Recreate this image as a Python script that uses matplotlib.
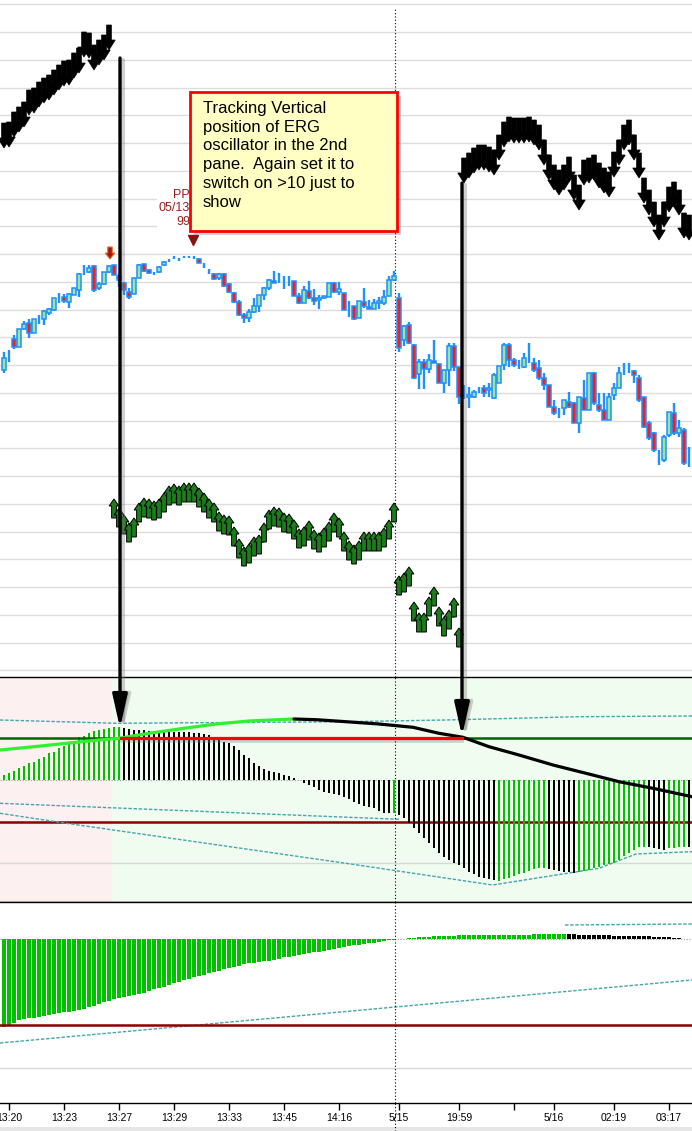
import matplotlib
matplotlib.use("Agg")
import numpy as np
import matplotlib.pyplot as plt
from matplotlib.patches import Rectangle, FancyArrow, ConnectionPatch
from matplotlib.lines import Line2D
from matplotlib.transforms import blended_transform_factory

plt.rcParams['font.family'] = ['Liberation Sans', 'DejaVu Sans']

# ---------------------------------------------------------------- data
n_bars = 138
tick_idx = [1, 12, 23, 34, 45, 56, 67, 79, 91, 102, 110, 122, 133]
tick_labels = ['13:20', '13:23', '13:27', '13:29', '13:33', '13:45', '14:16',
               '5/15', '19:59', '', '5/16', '02:19', '03:17']

candle_high = [348,350,365,371,379,381,381,385,390,392,
               402,407,406,407,412,427,435,435,435,418,
               428,435,435,427,418,412,422,436,436,431,
               428,434,439,441,444,442,444,444,444,442,
               437,431,427,427,427,417,408,400,387,391,
               402,405,413,421,429,427,424,424,419,407,
               414,419,411,405,404,417,418,418,407,399,
               394,399,412,400,401,403,410,424,429,407,
               375,378,356,341,341,346,360,337,330,357,
               357,333,315,313,310,313,315,317,327,334,
               357,357,342,340,347,357,342,340,327,315,
               300,292,300,308,298,303,320,327,328,307,
               307,307,317,333,337,337,330,325,303,279,
               268,250,265,288,297,280,272,253]
candle_low = [327,338,351,353,370,362,367,376,375,385,
              389,397,397,392,405,403,425,427,408,410,
              415,427,425,413,405,401,406,422,428,426,
              425,427,434,438,441,439,442,442,441,437,
              432,426,420,420,413,407,397,384,377,378,
              387,388,400,410,417,417,411,414,404,396,
              397,401,395,391,401,403,407,405,390,383,
              380,382,392,391,391,391,395,404,419,348,
              354,356,321,311,311,327,337,317,307,314,
              329,296,301,292,302,307,303,303,301,317,
              330,333,333,331,332,337,328,320,310,293,
              285,282,285,292,277,267,290,290,295,288,
              280,280,300,312,325,327,317,298,272,260,
              248,235,238,263,265,263,235,233]
candle_open = [330,343,361,353,371,377,367,380,381,387,
               390,400,403,398,405,410,428,428,434,412,
               416,428,435,424,417,408,406,422,436,430,
               427,428,435,439,442,440,443,443,443,441,
               435,429,426,422,426,416,407,398,385,382,
               388,394,405,412,419,419,419,419,419,404,
               397,409,402,400,402,403,417,408,407,397,
               394,382,398,393,391,397,397,404,420,402,
               360,375,355,326,338,331,339,336,317,330,
               354,333,303,303,303,310,312,310,302,317,
               335,355,340,334,333,343,337,332,322,315,
               293,287,292,298,297,277,302,290,327,295,
               290,280,305,312,330,330,329,322,303,277,
               267,243,240,265,287,267,270,242]
candle_close = [342,344,353,371,376,367,381,381,389,391,
                402,401,399,406,412,426,429,432,410,416,
                428,434,425,420,410,403,422,435,429,427,
                426,433,438,440,443,441,443,443,442,437,
                434,428,421,426,414,408,398,385,382,388,
                394,405,412,420,417,420,420,419,404,397,
                410,402,399,402,404,417,408,411,390,398,
                381,399,394,391,397,399,403,420,424,352,
                374,357,322,338,331,340,337,317,330,354,
                333,303,303,305,308,310,307,312,325,334,
                355,340,335,333,342,342,330,322,315,293,
                287,288,300,293,277,303,290,327,297,290,
                280,303,312,327,331,329,325,300,273,262,
                250,244,263,288,267,272,237,243]

# arrow levels (tip of each arrow)
down_arrow_left = [552,553,563,568,573,585,587,593,597,600,605,610,614,615,
                   622,627,643,642,630,635,640,650]                       # bars 0-21
up_arrow_mid = [201,192,185,177,182,197,202,201,199,201,
                207,214,216,214,217,217,217,212,207,201,
                197,188,185,184,173,161,153,156,163,165,
                177,190,193,192,187,186,180,171,173,179,
                170,167,172,178,187,182,168,159,155,159,
                168,168,168,168,172,180,197,124,127,133,
                98,87,87,103,113,93,83,90,102,72]                          # bars 22-91
down_arrow_right = [517,522,527,530,530,528,525,540,553,558,557,557,557,558,
                    555,550,535,520,510,505,510,518,500,490,515,517,520,512,
                    507,503,523,535,550,555,540,522,497,485,473,460,473,488,
                    493,485,462,460]                                       # bars 92-137

# ERG oscillator histogram (pane 2)
erg_hist = [5,7.3,9.3,11.7,14,16.7,18.3,21,23.3,26.7,
            28.3,31.7,34,35.7,37.7,42.7,44.3,46.7,49,50,
            50.7,51.7,52.7,53.3,51.7,50.7,50,50,50,49.3,
            49.3,48.3,48.3,48.3,48.3,48.3,48.3,48.3,47.3,46.7,
            46,45,42.7,40,38.3,37.3,34,30,25,21.7,
            17.3,14,10.7,9.3,8,6.7,5,4,1.7,0,
            -2.7,-5,-7.3,-10,-11.7,-12.7,-14,-15,-17.3,-19.3,
            -21.7,-24,-26,-26.7,-28.3,-30.7,-33.3,-33.3,-33.3,-35,
            -38.3,-42.7,-47.7,-53.3,-58.3,-63.3,-68.3,-73.3,-76.7,-80,
            -82.7,-85,-88.3,-91.7,-94,-96.7,-98.3,-99.3,-100,-101,
            -99.3,-97.7,-96,-94.3,-92.7,-90.7,-89.3,-88.3,-88.3,-89.3,
            -90,-90.7,-91.7,-91.7,-92.7,-91.7,-90.7,-90,-88.3,-86.7,
            -85,-84,-83.3,-80,-76,-73.3,-70,-67.3,-66.7,-67.3,
            -68.3,-69.3,-70,-68.3,-68.3,-67.3,-66.7,-66.7]
erg_hist_color = ("GGGGGGGGGGGGGGGGGGGGGGGG"
                  "KKKKKKKKKKKKKKKKKKKKKKKKKKKKKKKKKKKKKKKKKKKKKKKKKKKKKK"
                  "G" "KKKKKKKKKKKKKKKKKKKK" "GGGGGGGGGG" "KKKKKK"
                  "GGGGGGGGGGGGGG" "KKKK" "GGGG" "K")

# ERG signal line (pane 2)
sig_green_x = [-0.8, 6, 12.5, 19, 23, 29, 36, 42.5, 49, 58]
sig_green_y = [30, 33.3, 36.7, 40, 41.7, 46.7, 51.7, 56, 59, 61]
sig_black_x = [58, 62.5, 68.4, 75, 81.8, 87, 91.8, 97, 103, 109.8, 116.4, 123, 129.8, 137.6]
sig_black_y = [61, 60.3, 58.3, 56, 52.7, 46.7, 42.7, 33.3, 25, 15, 6.7, -1.7, -8.3, -16.7]

# teal trend lines pane 2
teal_a_x = [-0.8, 22.6, 68.4, 88.4, 115, 137.6]
teal_a_y = [60, 56.7, 58.3, 60, 63.3, 64]
teal_b_x = [-0.8, 79]
teal_b_y = [-23.3, -39.3]
teal_c_x = [-0.8, 12.5, 68.4, 78.4, 97.7, 119, 126.4, 137.6]
teal_c_y = [-33.3, -43.3, -83.3, -90.7, -105, -88.3, -74, -71.7]

erg_upper_level = 42
erg_lower_level = -42

# pane 3 histogram
p3_hist = [-87.7,-86.7,-83.7,-81,-80,-79.3,-78.7,-77.7,-77,-76.3,
           -75.3,-74.3,-73.3,-72.7,-71.7,-71,-69.7,-68.3,-67,-65,
           -63.3,-61.7,-60.3,-59.3,-58.3,-57,-56,-55,-53.7,-51.7,
           -50.3,-49,-47.7,-46.3,-44.3,-42.7,-41,-39.7,-38.3,-37,
           -35.7,-34.3,-33,-31.7,-30.3,-29.3,-28,-26.7,-25.3,-24.3,
           -23.7,-23,-22.3,-21.7,-21,-19.7,-18.3,-17.7,-17,-16.3,
           -15.3,-14.3,-13.3,-12.7,-11.7,-11,-10,-9.3,-8.3,-7.3,
           -6.3,-5.7,-5,-4.3,-3.7,-3,-2.3,-1.3,-0.7,0,
           0.3,0.7,1,1.7,2,2.3,2.7,3,3,3.3,
           3.3,3.7,4,4,4,4,4,4,4.3,4.3,
           4.3,4.3,4.3,4.3,4.3,4.3,5,5,5,5,
           5,5,5,5,4.7,4.3,4.3,4.3,4.3,4,
           4,4,3.3,3,3,3,3,2.7,2.7,2.7,
           2.3,2.3,1.7,1.7,1.3,0.7,0.3,0]
p3_color = "G" * 113 + "K" * 25
p3_lower_level = -86
p3_teal_x = [-0.8, 137.6]
p3_teal_y = [-104, -41]
p3_teal2_x = [112.2, 137.6]
p3_teal2_y = [14, 15]

# ---------------------------------------------------------------- layout
W, H = 692, 1131
fig = plt.figure(figsize=(W / 100, H / 100), dpi=100)
ax1 = fig.add_axes([0, 1 - 677 / H, 1, 677 / H])
ax2 = fig.add_axes([0, 1 - 902 / H, 1, 225 / H])
ax3 = fig.add_axes([0, 1 - 1103 / H, 1, 201 / H])
XL = (-0.8, 137.6)
idx = np.arange(n_bars)

blue = '#1e90ff'
hist_green = '#00c000'
teal = '#45a5ad'
teal_ls = (0, (2.5, 1.2))

# ---------------------------------------------------------------- main pane
ax1.set_xlim(XL)
ax1.set_ylim(23, 700)
for s in ax1.spines.values():
    s.set_visible(False)
ax1.set_xticks([])
ax1.set_yticks(np.arange(695.75, 23, -27.75))
ax1.tick_params(left=False, labelleft=False)
ax1.grid(axis='y', color='#dcdcdc', lw=1.0)
ax1.set_axisbelow(True)

ax1.vlines(idx, candle_low, candle_high, color=blue, lw=1.7, zorder=3)
for i in range(n_bars):
    o, c = candle_open[i], candle_close[i]
    if abs(c - o) >= 2:
        fc = '#98e898' if c > o else '#ff1a1a'
        ax1.add_patch(Rectangle((i - 0.44, min(o, c)), 0.88, abs(c - o),
                                fc=fc, ec=blue, lw=1.1, zorder=4))


def down_arrow(i, tip):
    ax1.add_patch(FancyArrow(i, tip + 25, 0, -25, width=0.95, head_width=2.5,
                             head_length=10, length_includes_head=True,
                             fc='black', ec='black', lw=0.5, zorder=5))


def up_arrow(i, tip):
    ax1.add_patch(FancyArrow(i, tip - 19, 0, 19, width=0.95, head_width=1.95,
                             head_length=7, length_includes_head=True,
                             fc='#1d7d1d', ec='black', lw=0.7, zorder=5))


for k, v in enumerate(down_arrow_left):
    down_arrow(k, v)
for k, v in enumerate(up_arrow_mid):
    up_arrow(22 + k, v)
for k, v in enumerate(down_arrow_right):
    down_arrow(92 + k, v)

# small markers
ax1.add_patch(FancyArrow(21.2, 453, 0, -12, width=0.9, head_width=1.9, head_length=6,
                         length_includes_head=True, fc='#a31515', ec='#e07020',
                         lw=0.8, zorder=6))
ax1.plot([37.8], [460], marker='v', ms=7, color='#8b1010', zorder=6)
ax1.text(37.2, 511, 'PP\n05/13\n99', ha='right', va='top', color='#9b1c1c',
         fontsize=9, linespacing=1.15, zorder=6,
         bbox=dict(fc='white', ec='none', pad=1.5))

# callout box
ax1.add_patch(Rectangle((38.0, 465), 41.4, 139, fc='#808080', alpha=0.35,
                        ec='none', zorder=7))
ax1.add_patch(Rectangle((37.2, 469), 41.4, 139, fc='#ffffc4', ec='#ff0000',
                        lw=2.0, zorder=8))
ax1.text(39.8, 599, 'Tracking Vertical\nposition of ERG\noscillator in the 2nd\n'
         'pane.  Again set it to\nswitch on >10 just to\nshow',
         ha='left', va='top', fontsize=12, linespacing=1.31, zorder=9)

# dotted session separator
sep_x = 78.2
ax1.axvline(sep_x, ymin=0, ymax=1 - 8 / 677, color='black', ls=(0, (1, 2)),
            lw=0.8, zorder=2)

# ---------------------------------------------------------------- pane 2
ax2.set_xlim(XL)
ax2.set_ylim(-122, 103)
ax2.set_xticks([])
ax2.set_yticks([])
for side in ('left', 'right'):
    ax2.spines[side].set_visible(False)
for side in ('top', 'bottom'):
    ax2.spines[side].set_color('black')
    ax2.spines[side].set_linewidth(1.0)
ax2.axvspan(XL[0], 21.6, color='#fdf0f0', lw=0, zorder=0)
ax2.axvspan(21.6, XL[1], color='#f0fcf0', lw=0, zorder=0)
ax2.axhline(-83, color='#d8d8d8', lw=1.0, zorder=1)
ax2.axhline(0, color='#999999', lw=0.8, ls=(0, (1, 1.5)), zorder=1)
ax2.axhline(erg_lower_level, color='#8b0000', lw=1.8, zorder=2)
ax2.plot(teal_a_x, teal_a_y, color=teal, lw=1.0, ls=teal_ls, zorder=2)
ax2.plot(teal_b_x, teal_b_y, color=teal, lw=1.0, ls=teal_ls, zorder=2)
ax2.plot(teal_c_x, teal_c_y, color=teal, lw=1.0, ls=teal_ls, zorder=2)
ax2.bar(idx, erg_hist, width=0.45,
        color=[hist_green if c == 'G' else 'black' for c in erg_hist_color], zorder=3)
ax2.axhline(erg_upper_level, color='#006400', lw=1.8, zorder=4)
ax2.plot(sig_green_x, sig_green_y, color='#30f030', lw=2.3, zorder=5,
         solid_capstyle='round')
ax2.plot(sig_black_x, sig_black_y, color='black', lw=2.3, zorder=5,
         solid_capstyle='round')
ax2.plot([23.6, 91.6], [erg_upper_level - 3, erg_upper_level - 3], color='#808080',
         lw=2.6, alpha=0.35, zorder=5)
ax2.plot([23.4, 91.6], [erg_upper_level, erg_upper_level], color='#ff0000', lw=2.3,
         zorder=6)
ax2.axvline(sep_x, color='black', ls=(0, (1, 2)), lw=0.8, zorder=6)

# ---------------------------------------------------------------- pane 3
ax3.set_xlim(XL)
ax3.set_ylim(-164, 37)
ax3.set_yticks([])
for side in ('left', 'right'):
    ax3.spines[side].set_visible(False)
for side in ('top', 'bottom'):
    ax3.spines[side].set_color('black')
    ax3.spines[side].set_linewidth(1.0)
ax3.axhline(-129, color='#d8d8d8', lw=1.0, zorder=1)
ax3.axhline(0, color='#999999', lw=0.8, ls=(0, (1, 1.5)), zorder=1)
ax3.plot(p3_teal_x, p3_teal_y, color=teal, lw=1.0, ls=teal_ls, zorder=2)
ax3.plot(p3_teal2_x, p3_teal2_y, color=teal, lw=1.0, ls=teal_ls, zorder=2)
ax3.bar(idx, p3_hist, width=0.75,
        color=[hist_green if c == 'G' else 'black' for c in p3_color], zorder=3)
ax3.axhline(p3_lower_level, color='#8b0000', lw=1.8, zorder=4)
ax3.axvline(sep_x, color='black', ls=(0, (1, 2)), lw=0.8, zorder=6)
ax3.set_xticks(tick_idx)
ax3.set_xticklabels(tick_labels, fontsize=7.5)
ax3.tick_params(axis='x', length=5, width=1, pad=2, direction='out', colors='black')

tr = blended_transform_factory(ax3.transData, fig.transFigure)
fig.add_artist(Line2D([sep_x, sep_x], [0, 28 / H], transform=tr, color='black',
                      ls=(0, (1, 2)), lw=0.8))
fig.add_artist(Rectangle((0, 0), 1, 4 / H, transform=fig.transFigure,
                         fc='#e6e6e6', ec='none', zorder=-5))

# ---------------------------------------------------------------- big arrows
for xi, ya, yb in [(23.2, 642, 52), (91.6, 517, 44)]:
    sh = ConnectionPatch((xi + 0.6, ya - 2), (xi + 0.6, yb - 2), 'data', 'data',
                         axesA=ax1, axesB=ax2,
                         arrowstyle='-|>,head_length=2.0,head_width=0.45',
                         mutation_scale=10, lw=3.0, color='#7a7a7a', alpha=0.35,
                         shrinkA=0, shrinkB=0)
    fig.add_artist(sh)
    ar = ConnectionPatch((xi, ya), (xi, yb), 'data', 'data', axesA=ax1, axesB=ax2,
                         arrowstyle='-|>,head_length=2.0,head_width=0.45',
                         mutation_scale=10, lw=2.4, color='black',
                         shrinkA=0, shrinkB=0)
    fig.add_artist(ar)

fig.savefig('out.png', dpi=100)
